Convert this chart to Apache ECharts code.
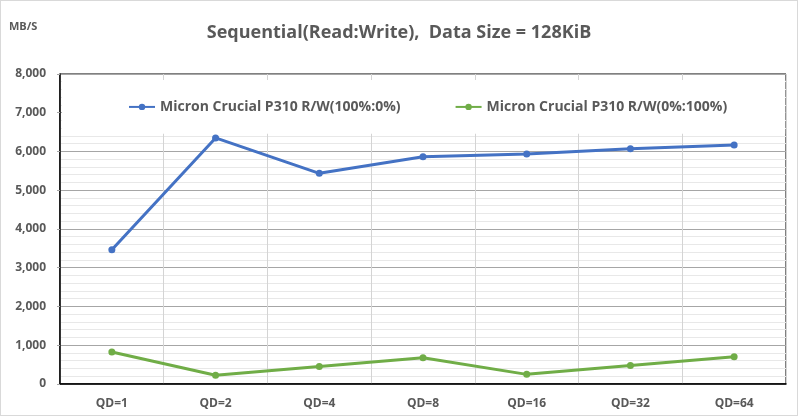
<html>

<head>
  <script src="https://cdn.jsdelivr.net/npm/echarts@6/dist/echarts.min.js"></script>
  <style>
    body { margin: 0; background: #fff; }
    #main { width: 796px; height: 414px; border: 1px solid #d9d9d9; }
  </style>
</head>

<body>
  <div id="main"></div>
  <script>
    var categories = ['QD=1', 'QD=2', 'QD=4', 'QD=8', 'QD=16', 'QD=32', 'QD=64'];
    var readName = 'Micron Crucial P310 R/W(100%:0%)';
    var writeName = 'Micron Crucial P310 R/W(0%:100%)';
    var readData = [3460, 6350, 5435, 5865, 5935, 6070, 6170];
    var writeData = [820, 220, 450, 675, 245, 475, 700];

    var fontFamily = '"Open Sans", "Noto Sans", sans-serif';
    var textColor = '#595959';

    var myChart = echarts.init(document.getElementById('main'));

    function lineSeries(name, data, color) {
      return {
        name: name,
        type: 'line',
        data: data,
        symbol: 'circle',
        symbolSize: 7,
        lineStyle: { width: 3, color: color },
        itemStyle: { color: color }
      };
    }

    option = {
      animation: false,
      title: {
        text: 'Sequential(Read:Write),  Data Size = 128KiB',
        left: 'center',
        top: 10,
        textStyle: { fontFamily: fontFamily, fontSize: 18, fontWeight: 'bold', color: textColor }
      },
      graphic: [{
        type: 'text',
        left: 8,
        top: 16,
        style: { text: 'MB/S', fontFamily: fontFamily, fontSize: 11, fontWeight: 'bold', fill: textColor }
      }],
      legend: {
        top: 79,
        left: 61,
        itemGap: 54,
        itemWidth: 26,
        itemHeight: 8,
        padding: [14, 58, 14, 66],
        backgroundColor: '#fff',
        textStyle: { fontFamily: fontFamily, fontSize: 14, fontWeight: 'bold', color: textColor },
        data: [readName, writeName]
      },
      grid: {
        left: 59,
        right: 11,
        top: 73,
        bottom: 26,
        show: true,
        borderColor: '#000',
        borderWidth: 1
      },
      xAxis: {
        type: 'category',
        data: categories,
        boundaryGap: true,
        axisLine: { lineStyle: { color: '#000', width: 1.5 } },
        axisTick: { show: false },
        axisLabel: { fontFamily: fontFamily, fontSize: 12, fontWeight: 'bold', color: textColor, margin: 9 },
        splitLine: { show: true, interval: 0, lineStyle: { color: '#d4d4d4' } }
      },
      yAxis: {
        type: 'value',
        min: 0,
        max: 8000,
        interval: 1000,
        axisLine: { show: true, lineStyle: { color: '#000', width: 1.5 } },
        axisTick: { show: true, length: 3, lineStyle: { color: '#a6a6a6' } },
        axisLabel: {
          fontFamily: fontFamily, fontSize: 12, fontWeight: 'bold', color: textColor, margin: 14,
          formatter: function (v) { return v.toLocaleString('en-US'); }
        },
        splitLine: { lineStyle: { color: '#a6a6a6' } },
        minorTick: { show: false, splitNumber: 5 },
        minorSplitLine: { show: true, lineStyle: { color: '#e8e8e8' } }
      },
      series: [
        lineSeries(readName, readData, '#4472C4'),
        lineSeries(writeName, writeData, '#70AD47')
      ]
    };

    myChart.setOption(option);
  </script>
</body>

</html>
